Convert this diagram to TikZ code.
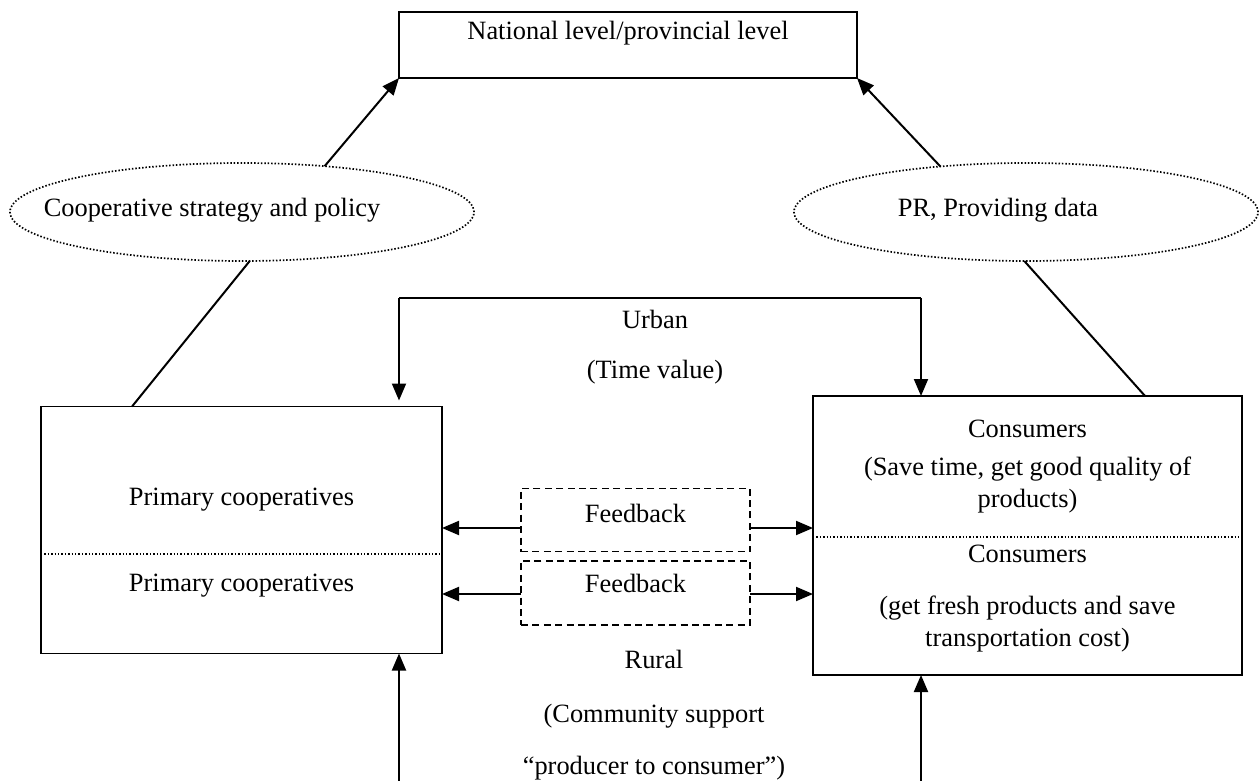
\documentclass[tikz,border=0pt]{standalone}
\usepackage{fontspec}
\setmainfont{Liberation Serif}
\usetikzlibrary{arrows.meta,calc,shapes.geometric}
\begin{document}
\begin{tikzpicture}[x=0.5pt,y=-0.5pt,
  every node/.style={inner sep=0pt,outer sep=0pt},
  txt/.style={font=\fontsize{13.2}{16}\selectfont,align=center},
  box/.style={draw,line width=0.9pt,rectangle},
  fbbox/.style={draw,line width=0.8pt,dash pattern=on 3.5pt off 2.2pt,rectangle,minimum width=114.5pt},
  oval/.style={draw,ellipse,line width=0.85pt,dash pattern=on 0.75pt off 0.95pt,minimum width=232pt,minimum height=49pt},
  arr/.style={line width=1pt,-{Triangle[length=8.5pt,width=7pt]}},
  ln/.style={line width=1pt},
  thinln/.style={line width=0.6pt},
  divl/.style={line width=0.7pt,dash pattern=on 0.7pt off 1.0pt}]
\useasboundingbox (0,0) rectangle (1260,781);
% top box
\node[box,minimum width=229pt,minimum height=33pt] (top) at (628,45) {};
\node[txt] (toptxt) at (628,33) {National level/provincial level};
% ellipses
\node[oval] (le) at (242,212) {};
\node[txt] (letxt) at (212,210) {Cooperative strategy and policy};
\node[oval] (re) at (1026,212) {};
\node[txt] (retxt) at (998,210) {PR, Providing data};
% left box
\node[box,minimum width=200.5pt,minimum height=123.5pt] (lbox) at (241.5,530) {};
\node[txt] (p1) at (241.5,500) {Primary cooperatives};
\node[txt] (p2) at (241.5,586) {Primary cooperatives};
\coordinate (dl) at (0,554);
\draw[divl] (lbox.west |- dl) -- (lbox.east |- dl);
% right box
\node[box,minimum width=214.5pt,minimum height=139.5pt] (rbox) at (1027.5,535.5) {};
\node[txt] (c1) at (1027.5,429) {Consumers};
\node[txt] (c2) at (1027.5,485) {(Save time, get good quality of\\products)};
\coordinate (dr) at (0,537);
\draw[divl] (rbox.west |- dr) -- (rbox.east |- dr);
\node[txt] (c3) at (1027.5,554) {Consumers};
\node[txt] (c4) at (1027.5,624) {(get fresh products and save\\transportation cost)};
% feedback boxes
\node[fbbox,minimum height=31.5pt] (fb1) at (635.5,520) {};
\node[txt] (fbt1) at (635.5,513) {Feedback};
\node[fbbox,minimum height=32pt] (fb2) at (635.5,593) {};
\node[txt] (fbt2) at (635.5,583) {Feedback};
\coordinate (ya) at (0,528);
\coordinate (yb) at (0,594);
\draw[arr] (fb1.west |- ya) -- (lbox.east |- ya);
\draw[arr] (fb1.east |- ya) -- (rbox.west |- ya);
\draw[arr] (fb2.west |- yb) -- (lbox.east |- yb);
\draw[arr] (fb2.east |- yb) -- (rbox.west |- yb);
% upper arrows to national level
\draw[arr] (le.29) -- (top.south west);
\draw[arr] (re.152) -- (top.south east);
% lines from ellipses to boxes
\draw[ln] (le.-81) -- ($(lbox.north west)!0.227!(lbox.north east)$);
\draw[ln] (re.-92) -- ($(rbox.north west)!0.774!(rbox.north east)$);
% urban connector
\coordinate (uL) at (399,298);
\coordinate (uR) at (921,298);
\draw[thinln] (uL) -- (uR);
\draw[ln] ($(uL)+(22,0)$) -- (uL);
\draw[ln] ($(uR)+(-40,0)$) -- (uR);
\draw[arr,shorten >=3pt] (uL) -- (uL |- lbox.north);
\draw[arr] (uR) -- (uR |- rbox.north);
\node[txt] (urb) at (655,319) {Urban};
\node[txt] (tv) at (655,372) {(Time value)};
% rural
\coordinate (bL) at (399,781);
\coordinate (bR) at (921,781);
\draw[arr] (bL) -- (bL |- lbox.south);
\draw[arr] (bR) -- (bR |- rbox.south);
\node[txt] (rur) at (654,659) {Rural};
\node[txt] (cs) at (654,716) {(Community support};
\node[txt] (pc) at (654,768) {``producer to consumer'')};
\end{tikzpicture}
\end{document}
